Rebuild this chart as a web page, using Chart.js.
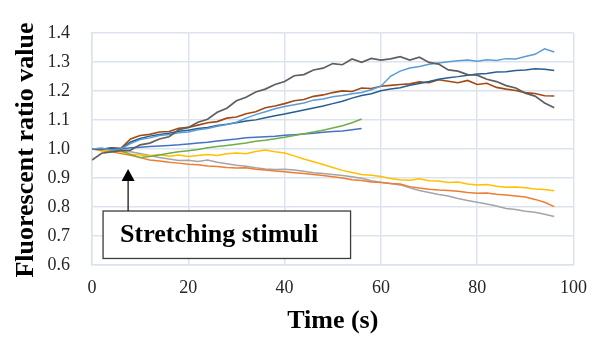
<!DOCTYPE html>
<html>
<head>
<meta charset="utf-8">
<script src="https://cdn.jsdelivr.net/npm/chart.js@4/dist/chart.umd.min.js"></script>
<style>
  html, body { margin: 0; padding: 0; background: #fff; }
  #wrap { width: 599px; height: 340px; position: relative; }
</style>
</head>
<body>
<div id="wrap"><canvas id="c" width="599" height="340"></canvas></div>
<script>
// ---- data ----
const times = [0,2,4,6,8,10,12,14,16,18,20,22,24,26,28,30,32,34,36,38,40,42,44,46,48,50,52,54,56,58,60,62,64,66,68,70,72,74,76,78,80,82,84,86,88,90,92,94,96];

const darkGraySeries = [0.962,0.985,0.99,0.994,0.996,1.014,1.02,1.034,1.042,1.066,1.074,1.092,1.102,1.126,1.14,1.166,1.178,1.196,1.206,1.222,1.232,1.252,1.256,1.272,1.278,1.294,1.29,1.31,1.298,1.312,1.306,1.31,1.318,1.306,1.316,1.298,1.292,1.272,1.268,1.256,1.254,1.24,1.232,1.218,1.21,1.192,1.182,1.158,1.142];
const brownSeries = [1.0,0.998,1.004,1.002,1.034,1.046,1.05,1.058,1.06,1.071,1.074,1.082,1.09,1.094,1.106,1.11,1.121,1.128,1.142,1.148,1.156,1.166,1.17,1.181,1.186,1.194,1.2,1.198,1.21,1.208,1.216,1.219,1.222,1.224,1.231,1.228,1.238,1.233,1.228,1.236,1.222,1.226,1.212,1.206,1.201,1.194,1.191,1.183,1.182];
const lightBlueSeries = [1.0,1.002,0.996,1.0,1.018,1.032,1.038,1.046,1.05,1.056,1.058,1.066,1.07,1.078,1.084,1.092,1.106,1.118,1.128,1.138,1.146,1.152,1.158,1.168,1.172,1.18,1.184,1.19,1.194,1.204,1.216,1.25,1.268,1.279,1.284,1.292,1.296,1.3,1.304,1.306,1.302,1.307,1.305,1.311,1.31,1.318,1.326,1.345,1.334];
const darkBlueSeries = [1.0,1.0,1.002,0.999,1.024,1.036,1.044,1.05,1.054,1.061,1.064,1.07,1.074,1.081,1.085,1.09,1.096,1.1,1.107,1.114,1.12,1.127,1.134,1.141,1.148,1.156,1.164,1.175,1.184,1.19,1.2,1.206,1.211,1.219,1.225,1.232,1.24,1.245,1.249,1.254,1.258,1.26,1.265,1.266,1.27,1.272,1.276,1.274,1.27];
const greenSeries = [1.0,1.002,0.996,0.994,0.981,0.97,0.974,0.979,0.985,0.99,0.994,0.998,1.004,1.008,1.012,1.016,1.02,1.026,1.03,1.035,1.04,1.046,1.052,1.058,1.064,1.072,1.08,1.09,1.103];
const blueSeries = [1.0,0.999,1.001,1.0,1.004,1.006,1.008,1.01,1.012,1.014,1.017,1.02,1.023,1.027,1.031,1.034,1.038,1.04,1.042,1.044,1.047,1.049,1.051,1.054,1.057,1.06,1.062,1.066,1.07];
const yellowSeries = [1.0,0.996,0.994,0.99,0.982,0.979,0.976,0.981,0.975,0.979,0.974,0.977,0.981,0.977,0.983,0.986,0.983,0.991,0.996,0.99,0.986,0.976,0.965,0.956,0.946,0.936,0.926,0.919,0.912,0.909,0.905,0.898,0.894,0.892,0.897,0.89,0.889,0.884,0.886,0.879,0.876,0.877,0.871,0.868,0.869,0.866,0.862,0.86,0.856];
const orangeSeries = [1.0,0.994,0.99,0.984,0.978,0.97,0.962,0.958,0.954,0.951,0.947,0.945,0.941,0.939,0.936,0.934,0.935,0.93,0.927,0.924,0.921,0.918,0.915,0.912,0.908,0.904,0.9,0.894,0.891,0.886,0.884,0.881,0.879,0.87,0.865,0.861,0.858,0.857,0.854,0.85,0.847,0.848,0.844,0.841,0.838,0.834,0.826,0.816,0.801];
const graySeries = [1.0,0.998,0.996,0.993,0.99,0.984,0.977,0.97,0.965,0.96,0.961,0.957,0.962,0.954,0.949,0.944,0.94,0.935,0.931,0.929,0.93,0.927,0.923,0.918,0.915,0.912,0.908,0.904,0.899,0.89,0.885,0.881,0.876,0.866,0.857,0.85,0.843,0.838,0.829,0.822,0.816,0.81,0.803,0.795,0.791,0.785,0.782,0.775,0.767];

const xTickLabels = ['0','20','40','60','80','100'];
const yTickLabels = ['0.6','0.7','0.8','0.9','1.0','1.1','1.2','1.3','1.4'];
const xTitle = 'Time (s)';
const yTitle = 'Fluorescent ratio value';
const annotationText = 'Stretching stimuli';
const stimulusTime = 7.5;

// ---- chart ----
const seriesList = [
  { values: darkGraySeries, color: '#5f5f5f', width: 1.7 },
  { values: lightBlueSeries, color: '#5b9bd5', width: 1.5 },
  { values: darkBlueSeries, color: '#255e91', width: 1.5 },
  { values: brownSeries, color: '#a24a14', width: 1.6 },
  { values: greenSeries, color: '#70ad47', width: 1.5 },
  { values: blueSeries, color: '#4472c4', width: 1.5 },
  { values: yellowSeries, color: '#ffc000', width: 1.5 },
  { values: orangeSeries, color: '#ed7d31', width: 1.5 },
  { values: graySeries, color: '#a5a5a5', width: 1.5 }
];

const datasets = seriesList.map(s => ({
  data: s.values.map((v, i) => ({ x: times[i], y: v })),
  borderColor: s.color,
  borderWidth: s.width,
  pointRadius: 0,
  fill: false,
  tension: 0
}));

const gridColor = '#dde3ec';
const serif = '"Liberation Serif", "Times New Roman", serif';

const annotationPlugin = {
  id: 'annot',
  afterDatasetsDraw(chart) {
    const ctx = chart.ctx;
    const xs = chart.scales.x, ys = chart.scales.y;
    ctx.save();
    // box
    const bx1 = xs.getPixelForValue(2.3), bx2 = xs.getPixelForValue(53.7);
    const by1 = ys.getPixelForValue(0.786), by2 = ys.getPixelForValue(0.6225);
    ctx.fillStyle = '#ffffff';
    ctx.fillRect(bx1, by1, bx2 - bx1, by2 - by1);
    ctx.strokeStyle = '#3c3c3c';
    ctx.lineWidth = 1.3;
    ctx.strokeRect(bx1, by1, bx2 - bx1, by2 - by1);
    ctx.fillStyle = '#000000';
    ctx.font = 'bold 26px ' + serif;
    ctx.textAlign = 'left';
    ctx.textBaseline = 'middle';
    ctx.fillText(annotationText, bx1 + 17, (by1 + by2) / 2 + 1);
    // arrow
    const ax = xs.getPixelForValue(stimulusTime);
    const tipY = ys.getPixelForValue(0.931);
    const headBase = ys.getPixelForValue(0.889);
    ctx.strokeStyle = '#1a1a1a';
    ctx.lineWidth = 1.3;
    ctx.beginPath();
    ctx.moveTo(ax, by1);
    ctx.lineTo(ax, headBase);
    ctx.stroke();
    ctx.beginPath();
    ctx.moveTo(ax, tipY);
    ctx.lineTo(ax - 6.5, headBase);
    ctx.lineTo(ax + 6.5, headBase);
    ctx.closePath();
    ctx.fillStyle = '#000000';
    ctx.fill();
    // y axis title
    ctx.save();
    ctx.translate(26, 150);
    ctx.rotate(-Math.PI / 2);
    ctx.font = 'bold 26px ' + serif;
    ctx.textAlign = 'center';
    ctx.textBaseline = 'middle';
    ctx.fillStyle = '#000000';
    ctx.fillText(yTitle, 0, 0);
    ctx.restore();
    ctx.restore();
  }
};

new Chart(document.getElementById('c'), {
  type: 'line',
  data: { datasets },
  options: {
    responsive: false,
    animation: false,
    devicePixelRatio: 1,
    layout: { padding: { top: 16, right: 25, left: 0, bottom: 0 } },
    plugins: { legend: { display: false }, tooltip: { enabled: false } },
    scales: {
      x: {
        type: 'linear',
        min: 0, max: 100,
        afterFit(scale) { scale.height = 75; },
        afterBuildTicks(scale) { scale.ticks = xTickLabels.map(l => ({ value: Number(l) })); },
        ticks: {
          callback: (v) => xTickLabels.find(l => Number(l) === v) ?? '',
          font: { family: serif, size: 18 },
          color: '#262626',
          padding: 12,
          maxRotation: 0,
          autoSkip: false
        },
        grid: { color: gridColor, lineWidth: 1.5, drawTicks: false },
        border: { color: gridColor, width: 1.5 },
        title: {
          display: true,
          text: xTitle,
          font: { family: serif, size: 26, weight: 'bold' },
          color: '#000000',
          padding: { top: 0, bottom: 3 }
        }
      },
      y: {
        type: 'linear',
        min: 0.6, max: 1.4,
        afterFit(scale) { scale.width = 92; },
        afterBuildTicks(scale) { scale.ticks = yTickLabels.map(l => ({ value: Number(l) })); },
        ticks: {
          callback: (v) => yTickLabels.find(l => Math.abs(Number(l) - v) < 1e-6) ?? '',
          font: { family: serif, size: 18 },
          color: '#262626',
          padding: 22,
          autoSkip: false
        },
        grid: { color: gridColor, lineWidth: 1.5, drawTicks: false },
        border: { color: gridColor, width: 1.5 },
        title: { display: false }
      }
    }
  },
  plugins: [annotationPlugin]
});
</script>
</body>
</html>
